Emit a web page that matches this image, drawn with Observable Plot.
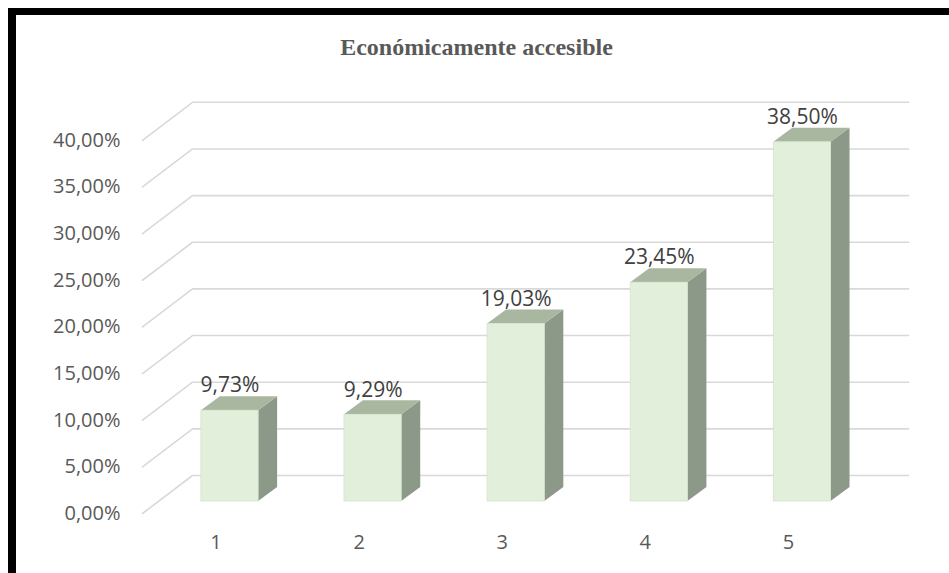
<!DOCTYPE html>
<html><head><meta charset="utf-8">
<script src="https://cdn.jsdelivr.net/npm/d3@7"></script>
<script src="https://cdn.jsdelivr.net/npm/@observablehq/plot@0.6"></script>
<style>
body{margin:0;background:#fff;}
#wrap{position:relative;width:949px;height:573px;overflow:hidden;background:#fff;}
#chart{position:absolute;left:0;top:0;}
#frameL{position:absolute;left:8px;top:8px;width:8px;height:565px;background:#000;}
#frameT{position:absolute;left:8px;top:8px;width:941px;height:7px;background:#000;}
#title{position:absolute;left:0;width:953px;top:33px;line-height:28px;text-align:center;font-family:"Liberation Serif";font-weight:bold;font-size:24px;color:#595959;}
</style></head><body>
<div id="wrap"><div id="chart"></div><div id="frameL"></div><div id="frameT"></div><div id="title">Económicamente accesible</div></div>
<script>
const categories = ["1", "2", "3", "4", "5"];
const values = [0.0973, 0.0929, 0.1903, 0.2345, 0.3850];
const valueLabels = ["9,73%", "9,29%", "19,03%", "23,45%", "38,50%"];
const ticks = [0, 0.05, 0.10, 0.15, 0.20, 0.25, 0.30, 0.35, 0.40];
const tickLabels = ["0,00%", "5,00%", "10,00%", "15,00%", "20,00%", "25,00%", "30,00%", "35,00%", "40,00%"];

// layout (pixels)
const W = 949, H = 573;
const X0 = 229.5, XS = 143.1;   // pixel of category 1, pixels per category
const Y0 = 501, YS = 933;       // pixel of 0 %, pixels per unit (100 %)
const px2x = p => 1 + (p - X0) / XS;
const hw = 0.2;                  // half bar width (gap width 150 %)
const ddx = 19 / XS, ddy = 14 / YS;  // bar depth
const gFrontX = px2x(142), gBackX = px2x(192), gEndX = px2x(908);
const gFrontDy = -12 / YS, gBackDy = 26 / YS;

const grid = ticks.flatMap(t => [
  {t, x: gFrontX, y: t + gFrontDy},
  {t, x: gBackX, y: t + gBackDy},
  {t, x: gEndX, y: t + gBackDy}
]);
const bars = values.map((v, i) => ({i: i + 1, v}));
const sides = bars.flatMap(b => [
  {k: b.i, x: b.i + hw, y1: 0, y2: b.v},
  {k: b.i, x: b.i + hw + ddx, y1: ddy, y2: b.v + ddy}
]);
const tops = bars.flatMap(b => [
  {k: b.i, y: b.v, x1: b.i - hw, x2: b.i + hw},
  {k: b.i, y: b.v + ddy, x1: b.i - hw + ddx, x2: b.i + hw + ddx}
]);

const chart = Plot.plot({
  width: W, height: H, margin: 0,
  x: {type: "linear", domain: [1, 5], range: [X0, X0 + 4 * XS], axis: null},
  y: {type: "linear", domain: [0, 0.4], range: [Y0, Y0 - 0.4 * YS], axis: null},
  style: {fontFamily: "Open Sans", background: "transparent"},
  marks: [
    Plot.line(grid, {x: "x", y: "y", z: "t", stroke: "#d9d9d9", strokeWidth: 1.6}),
    Plot.areaY(sides, {x: "x", y1: "y1", y2: "y2", z: "k", fill: "#8c9888"}),
    Plot.areaX(tops, {y: "y", x1: "x1", x2: "x2", z: "k", fill: "#a9b7a1"}),
    Plot.rect(bars, {x1: d => d.i - hw, x2: d => d.i + hw, y1: () => 0, y2: "v", fill: "#e2efda", stroke: "#d5e3cc", strokeWidth: 0.8}),
    Plot.text(ticks, {x: () => px2x(120), y: d => d, dy: 12, text: (d, i) => tickLabels[i], textAnchor: "end", fontSize: 20, fill: "#595959"}),
    Plot.text(bars, {x: "i", y: "v", dy: -25, text: (d, i) => valueLabels[i], fontSize: 21, fill: "#404040"}),
    Plot.text(categories, {x: (d, i) => i + 1, y: () => 0, dx: -14, dy: 41, text: d => d, fontSize: 20, fill: "#595959"})
  ]
});
document.getElementById("chart").appendChild(chart);
</script>
</body></html>
